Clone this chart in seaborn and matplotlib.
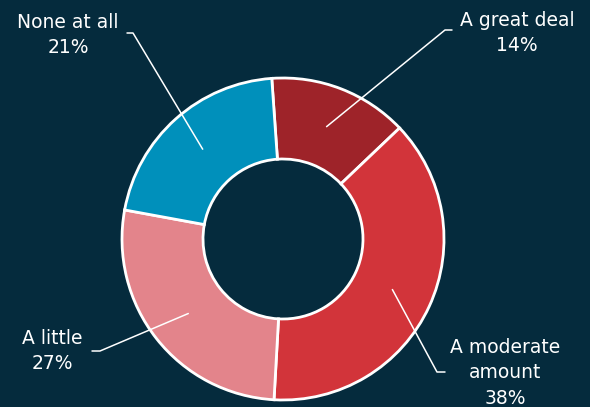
import seaborn as sns
import matplotlib.pyplot as plt
import numpy as np

# datos de la encuesta
categorias = ['A great deal', 'A moderate amount', 'A little', 'None at all']
etiquetas = ['A great deal', 'A moderate\namount', 'A little', 'None at all']
porcentajes = [14, 38, 27, 21]
colores = ['#9e2329', '#d2343a', '#e3848b', '#0090bb']

fondo = '#052b3d'

sns.set_theme(style='white')
plt.rcParams['font.family'] = ['DejaVu Sans']

fig = plt.figure(figsize=(5.9, 4.07), dpi=100, facecolor=fondo)
ax = fig.add_axes([0, 0, 1, 1])
ax.set_facecolor(fondo)

centro = (283, 168)
R = 161
ancho = 81
inicio = 94

ax.pie(porcentajes, colors=sns.color_palette(colores), startangle=inicio,
       counterclock=False, center=centro, radius=R,
       wedgeprops=dict(width=ancho, edgecolor='white', linewidth=2))
ax.set_xlim(0, 590)
ax.set_ylim(0, 407)
ax.set_aspect('equal')
ax.axis('off')

# posiciones de los textos y codos de las líneas guía
textos = [(517, 374), (505, 34), (52, 56), (68, 372)]
codos = [((445, 377), (452, 377)), ((437, 35), (445, 35)),
         ((100, 56), (92, 56)), ((133, 374), (127, 374))]

acum = np.cumsum([0] + porcentajes)
for i, p in enumerate(porcentajes):
    medio = (acum[i] + acum[i + 1]) / 2 / 100 * 360
    ang = np.deg2rad(inicio - medio)
    rm = R - ancho / 2
    x0 = centro[0] + rm * np.cos(ang)
    y0 = centro[1] + rm * np.sin(ang)
    (xa, ya), (xb, yb) = codos[i]
    ax.plot([x0, xa, xb], [y0, ya, yb], color='white', lw=1.1)
    ax.text(textos[i][0], textos[i][1], f'{etiquetas[i]}\n{p}%', color='white',
            fontsize=13.5, ha='center', va='center', linespacing=1.45)

fig.savefig('out.png', dpi=100, facecolor=fondo)
